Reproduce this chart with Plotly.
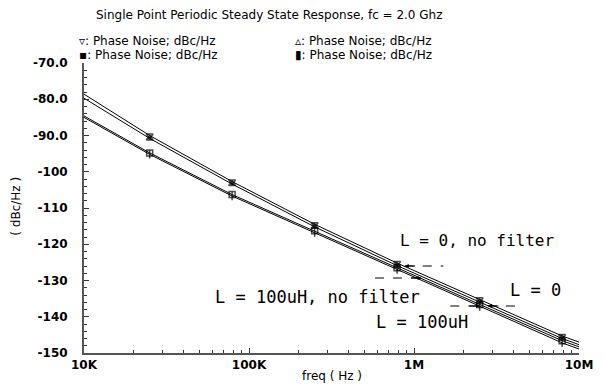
import plotly.graph_objects as go

freq = [1e4, 2.5e4, 7.9e4, 2.5e5, 7.9e5, 2.5e6, 7.9e6, 1e7]
pn_a = [-78.6, -90.0, -102.7, -114.5, -125.2, -135.2, -145.3, -147.0]
pn_b = [-79.7, -90.8, -103.4, -115.2, -125.9, -135.9, -146.0, -147.7]
pn_c = [-84.6, -94.8, -106.3, -116.3, -126.5, -136.6, -146.6, -148.3]
pn_d = [-85.0, -95.2, -106.7, -116.8, -127.0, -137.2, -147.2, -148.9]
symbols = ["triangle-down-open", "triangle-up", "square-open", "line-ns"]
series = [pn_a, pn_b, pn_c, pn_d]

xtick_vals = [1e4, 1e5, 1e6, 1e7]
xtick_text = ["10K", "100K", "1M", "10M"]
ytick_vals = [-70, -80, -90, -100, -110, -120, -130, -140, -150]
ytick_text = ["-70.0", "-80.0", "-90.0", "-100", "-110", "-120", "-130", "-140", "-150"]

fig = go.Figure()
msize = [0] + [6] * (len(freq) - 2) + [0]
for ys, sym in zip(series, symbols):
    fig.add_trace(go.Scatter(
        x=freq, y=ys, mode="lines+markers",
        line=dict(color="black", width=1),
        marker=dict(symbol=sym, size=msize, color="black",
                    line=dict(color="black", width=1.5)),
        showlegend=False))

L, R, T, B = 84, 21, 63, 37
W, H = 605, 390
pw, ph = W - L - R, H - T - B

def px(x):
    return (x - L) / pw

def py(y):
    return (H - B - y) / ph

tick_font = dict(family="DejaVu Sans", size=12, color="black", weight="bold")
fig.update_layout(
    width=W, height=H,
    margin=dict(l=L, r=R, t=T, b=B),
    paper_bgcolor="white", plot_bgcolor="white",
    xaxis=dict(type="log", range=[4, 7], showgrid=False, zeroline=False,
               showline=True, linecolor="#555", linewidth=2,
               ticks="inside", ticklen=5, tickcolor="#333",
               tickvals=xtick_vals, ticktext=xtick_text, tickfont=tick_font,
               minor=dict(ticks="inside", ticklen=3, tickcolor="#333",
                          tickvals=[m * 10 ** e for e in (4, 5, 6) for m in range(2, 10)])),
    yaxis=dict(range=[-150, -70], showgrid=False, zeroline=False,
               showline=True, linecolor="#555", linewidth=2,
               ticks="inside", ticklen=5, tickcolor="#333",
               tickvals=ytick_vals, ticktext=ytick_text, tickfont=tick_font,
               ticklabelstandoff=12,
               minor=dict(ticks="inside", ticklen=3, tickcolor="#333", dtick=2)),
)

txt = dict(family="DejaVu Sans", color="black")
mono = dict(family="DejaVu Sans Mono", color="black")
ann = [
    dict(x=px(271), y=py(15), text="Single Point Periodic Steady State Response, fc = 2.0 Ghz",
         font=dict(size=12, **txt)),
    dict(x=px(77), y=py(41), xanchor="left", text="▿: Phase Noise; dBc/Hz", font=dict(size=12, **txt)),
    dict(x=px(77), y=py(55), xanchor="left", text="▪: Phase Noise; dBc/Hz", font=dict(size=12, **txt)),
    dict(x=px(295), y=py(41), xanchor="left", text="▵: Phase Noise; dBc/Hz", font=dict(size=12, **txt)),
    dict(x=px(295), y=py(55), xanchor="left", text="▮: Phase Noise; dBc/Hz", font=dict(size=12, **txt)),
    dict(x=px(15), y=py(206), text="( dBc/Hz )", textangle=-90, font=dict(size=12, **txt)),
    dict(x=px(334), y=py(376), text="freq ( Hz )", font=dict(size=12, **txt)),
    dict(x=px(481), y=py(240), text="L = 0, no filter", font=dict(size=16, **mono)),
    dict(x=px(320), y=py(297), text="L = 100uH, no filter", font=dict(size=17, **mono)),
    dict(x=px(540), y=py(290), text="L = 0", font=dict(size=17, **mono)),
    dict(x=px(425), y=py(322), text="L = 100uH", font=dict(size=17, **mono)),
]
# arrowheads at the ends of the dashed leader lines (tip x, tip y, tail x, tail y in pixels)
arrows = [(408, 266, 420, 266), (425, 278, 413, 278), (492, 306, 504, 306), (484, 306, 472, 306)]
for x1, y1, x0, y0 in arrows:
    ann.append(dict(x=px(x1), y=py(y1), ax=x0 - x1, ay=y0 - y1,
                    showarrow=True, arrowhead=2, arrowsize=0.8, arrowwidth=1,
                    arrowcolor="black", text=""))
for a in ann:
    a.setdefault("xref", "paper")
    a.setdefault("yref", "paper")
    a.setdefault("showarrow", False)
    a.setdefault("xanchor", "center")
    a.setdefault("yanchor", "middle")
fig.update_layout(annotations=ann)

leaders = [(408, 447, 266), (378, 425, 278), (492, 528, 306), (454, 484, 306)]
for x0, x1, y in leaders:
    fig.add_shape(type="line", xref="paper", yref="paper",
                  x0=px(x0), x1=px(x1), y0=py(y), y1=py(y),
                  line=dict(color="black", width=1, dash="dash"))

fig.write_html("out.html")
